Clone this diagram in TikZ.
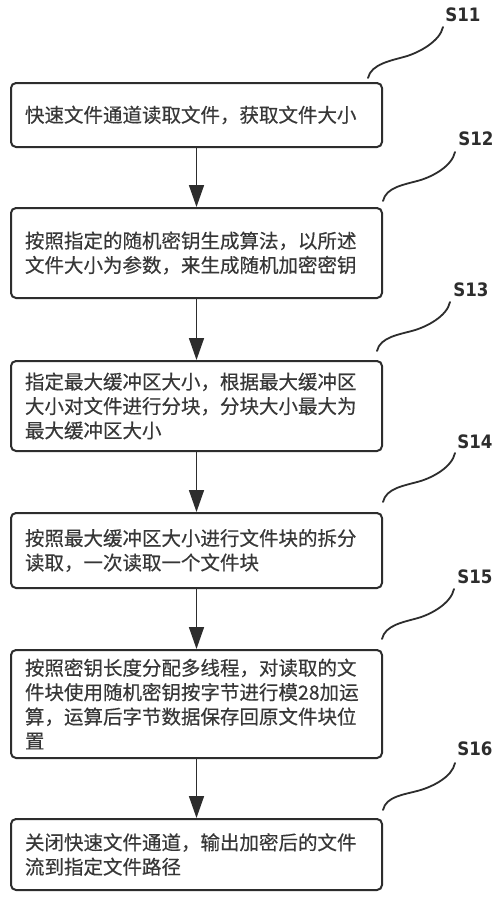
\documentclass[tikz,border=0pt]{standalone}
\usepackage{fontspec}
\newfontfamily\cjk[FakeBold=0.35]{Noto Sans CJK SC}
\newfontfamily\labfont{DejaVu Sans Condensed}
\usetikzlibrary{arrows.meta,calc}
\definecolor{ink}{RGB}{45,45,45}
\definecolor{txt}{RGB}{55,55,55}
\tikzset{
  stepbox/.style={draw=ink, line width=2pt, rounded corners=5pt, anchor=north west,
    minimum width=371pt, text width=343pt, inner xsep=14pt, inner ysep=0pt, align=left,
    text=txt, font=\cjk\fontsize{19.5}{24.4}\selectfont},
  flowarrow/.style={draw=ink, line width=1.6pt, -{Triangle[width=15pt,length=22pt]}},
  leader/.style={draw=ink, line width=1.8pt, line cap=round},
  steplabel/.style={text=ink, inner sep=0pt, font=\labfont\bfseries\fontsize{18.5}{22}\selectfont}
}
\newcommand{\leaderline}[2]{%
  \draw[leader] (#1) .. controls ($(#1)+(3,-14)$) and ($(#1)!0.5!(#2)+(-14,8)$) ..
    ($(#1)!0.5!(#2)+(0,4)$) .. controls ($(#1)!0.5!(#2)+(14,0)$) and ($(#2)+(-3,14)$) .. (#2);}
\begin{document}
\begin{tikzpicture}[x=1pt,y=-1pt]
\useasboundingbox[fill=white] (0,0) rectangle (500,898);

\node[stepbox, minimum height=64pt] (b1) at (10,82) {快速文件通道读取文件，获取文件大小};
\node[stepbox, minimum height=90pt] (b2) at (10,207) {按照指定的随机密钥生成算法，以所述\\文件大小为参数，来生成随机加密密钥};
\node[stepbox, minimum height=90pt] (b3) at (10,360) {指定最大缓冲区大小，根据最大缓冲区\\大小对文件进行分块，分块大小最大为\\最大缓冲区大小};
\node[stepbox, minimum height=75pt] (b4) at (10,512) {按照最大缓冲区大小进行文件块的拆分\\读取，一次读取一个文件块};
\node[stepbox, minimum height=108pt] (b5) at (10,649) {按照密钥长度分配多线程，对读取的文\\件块使用随机密钥按字节进行模28加运\\算，运算后字节数据保存回原文件块位\\置};
\node[stepbox, minimum height=71pt] (b6) at (10,818) {关闭快速文件通道，输出加密后的文件\\流到指定文件路径};

\draw[flowarrow] (b1.south) -- (b2.north);
\draw[flowarrow] (b2.south) -- (b3.north);
\draw[flowarrow] (b3.south) -- (b4.north);
\draw[flowarrow] (b4.south) -- (b5.north);
\draw[flowarrow] (b5.south) -- (b6.north);

\node[steplabel] (l1) at (463,15) {S11};
\node[steplabel] (l2) at (476,139) {S12};
\node[steplabel] (l3) at (471,289.5) {S13};
\node[steplabel] (l4) at (475,442) {S14};
\node[steplabel] (l5) at (475,577) {S15};
\node[steplabel] (l6) at (475,749) {S16};

\coordinate (s1) at (368,78);  \coordinate (e1) at (443,27);
\coordinate (s2) at (383,201); \coordinate (e2) at (455,152);
\coordinate (s3) at (377,351); \coordinate (e3) at (450,302);
\coordinate (s4) at (383,502); \coordinate (e4) at (455,453);
\coordinate (s5) at (382,639); \coordinate (e5) at (454,589);
\coordinate (s6) at (383,810); \coordinate (e6) at (455,763);

\leaderline{s1}{e1}
\leaderline{s2}{e2}
\leaderline{s3}{e3}
\leaderline{s4}{e4}
\leaderline{s5}{e5}
\leaderline{s6}{e6}
\end{tikzpicture}
\end{document}
